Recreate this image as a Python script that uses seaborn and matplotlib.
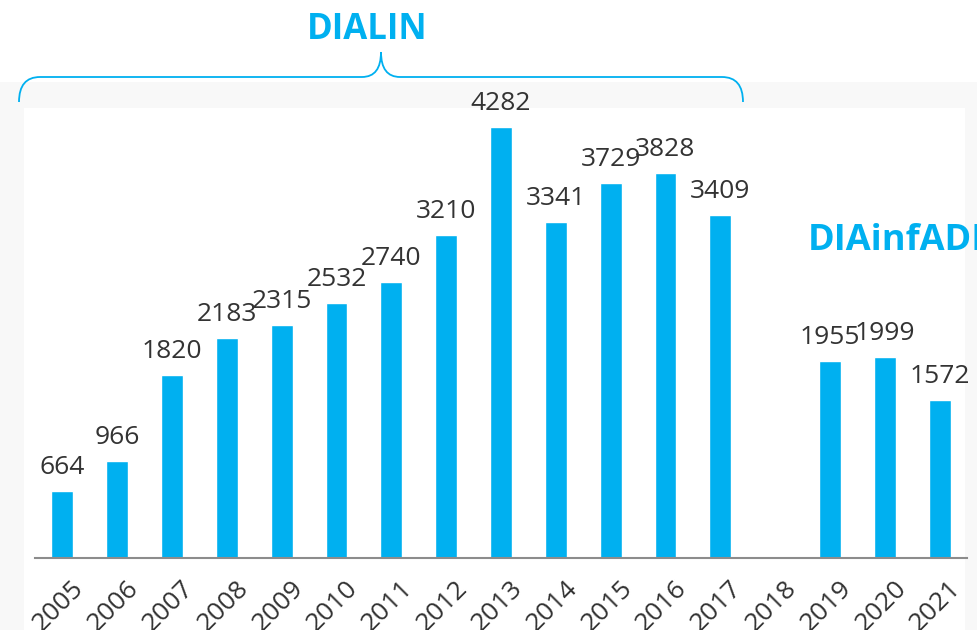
import matplotlib
matplotlib.use("Agg")
import matplotlib.pyplot as plt
import matplotlib.transforms as mtransforms
from matplotlib.path import Path
from matplotlib.patches import PathPatch, Rectangle
import numpy as np
import pandas as pd
import seaborn as sns

# Daten
years = ['2005', '2006', '2007', '2008', '2009', '2010', '2011', '2012', '2013',
         '2014', '2015', '2016', '2017', '2018', '2019', '2020', '2021']
counts = [664, 966, 1820, 2183, 2315, 2532, 2740, 3210, 4282,
          3341, 3729, 3828, 3409, np.nan, 1955, 1999, 1572]
bracket_label = 'DIALIN'
side_label = 'DIAinfADI'

df = pd.DataFrame({'Jahr': years, 'Anzahl': counts})

sns.set_theme(style="white")
plt.rcParams['font.family'] = ['Open Sans', 'DejaVu Sans']

W, H = 977, 630
fig = plt.figure(figsize=(W / 100, H / 100), dpi=100)
fig.patch.set_facecolor('white')

def px(x, y):
    # Pixelkoordinaten (oben links) -> Figure-Anteile
    return x / W, 1 - y / H

# sehr heller grauer Rahmen im Hintergrund
fig.patches.append(Rectangle(px(0, 630), 1, (630 - 82) / H, transform=fig.transFigure,
                             facecolor='#f8f8f8', edgecolor='none', zorder=-2))
fig.patches.append(Rectangle(px(24, 630), (965 - 24) / W, (630 - 108) / H,
                             transform=fig.transFigure, facecolor='white',
                             edgecolor='none', zorder=-1))

blue = '#00B0F0'
ax = fig.add_axes([35 / W, (630 - 558) / H, (967 - 35) / W, 453 / H])
ax.patch.set_alpha(0)
sns.barplot(data=df, x='Jahr', y='Anzahl', order=years, color=blue,
            width=0.4, saturation=1, ax=ax)
ax.set_xlim(-0.5, 16.5)
ax.set_ylim(0, 4500)

# Werte über den Balken
for bar in ax.patches:
    h = bar.get_height()
    if np.isnan(h):
        continue
    ax.annotate(f'{h:.0f}', (bar.get_x() + bar.get_width() / 2, h),
                xytext=(0, 8), textcoords='offset points',
                ha='center', va='bottom', fontsize=19, color='#333333')

sns.despine(ax=ax, left=True)
ax.spines['bottom'].set_color('#8c8c8c')
ax.spines['bottom'].set_linewidth(1.5)
ax.set_yticks([])
ax.set_xlabel('')
ax.set_ylabel('')
ax.tick_params(axis='x', length=0, pad=13, labelsize=19, labelcolor='#333333')
shift = mtransforms.ScaledTranslation(9 / 100, 0, fig.dpi_scale_trans)
for lab in ax.get_xticklabels():
    lab.set_rotation(45)
    lab.set_ha('right')
    lab.set_va('top')
    lab.set_rotation_mode('anchor')
    lab.set_transform(lab.get_transform() + shift)

# geschweifte Klammer über 2005-2017
verts = [px(19, 102), px(19, 77), px(40, 77),
         px(362, 77), px(381, 77), px(381, 52),
         px(381, 77), px(400, 77),
         px(722, 77), px(743, 77), px(743, 102)]
codes = [Path.MOVETO, Path.CURVE3, Path.CURVE3,
         Path.LINETO, Path.CURVE3, Path.CURVE3,
         Path.CURVE3, Path.CURVE3,
         Path.LINETO, Path.CURVE3, Path.CURVE3]
fig.patches.append(PathPatch(Path(verts, codes), transform=fig.transFigure,
                             facecolor='none', edgecolor=blue, lw=1.3))

fig.text(*px(367, 30), bracket_label, color=blue, fontsize=25, fontweight='bold',
         ha='center', va='center')
fig.text(*px(808, 241), side_label, color=blue, fontsize=26, fontweight='bold',
         ha='left', va='center')

fig.savefig('out.png', dpi=100)
